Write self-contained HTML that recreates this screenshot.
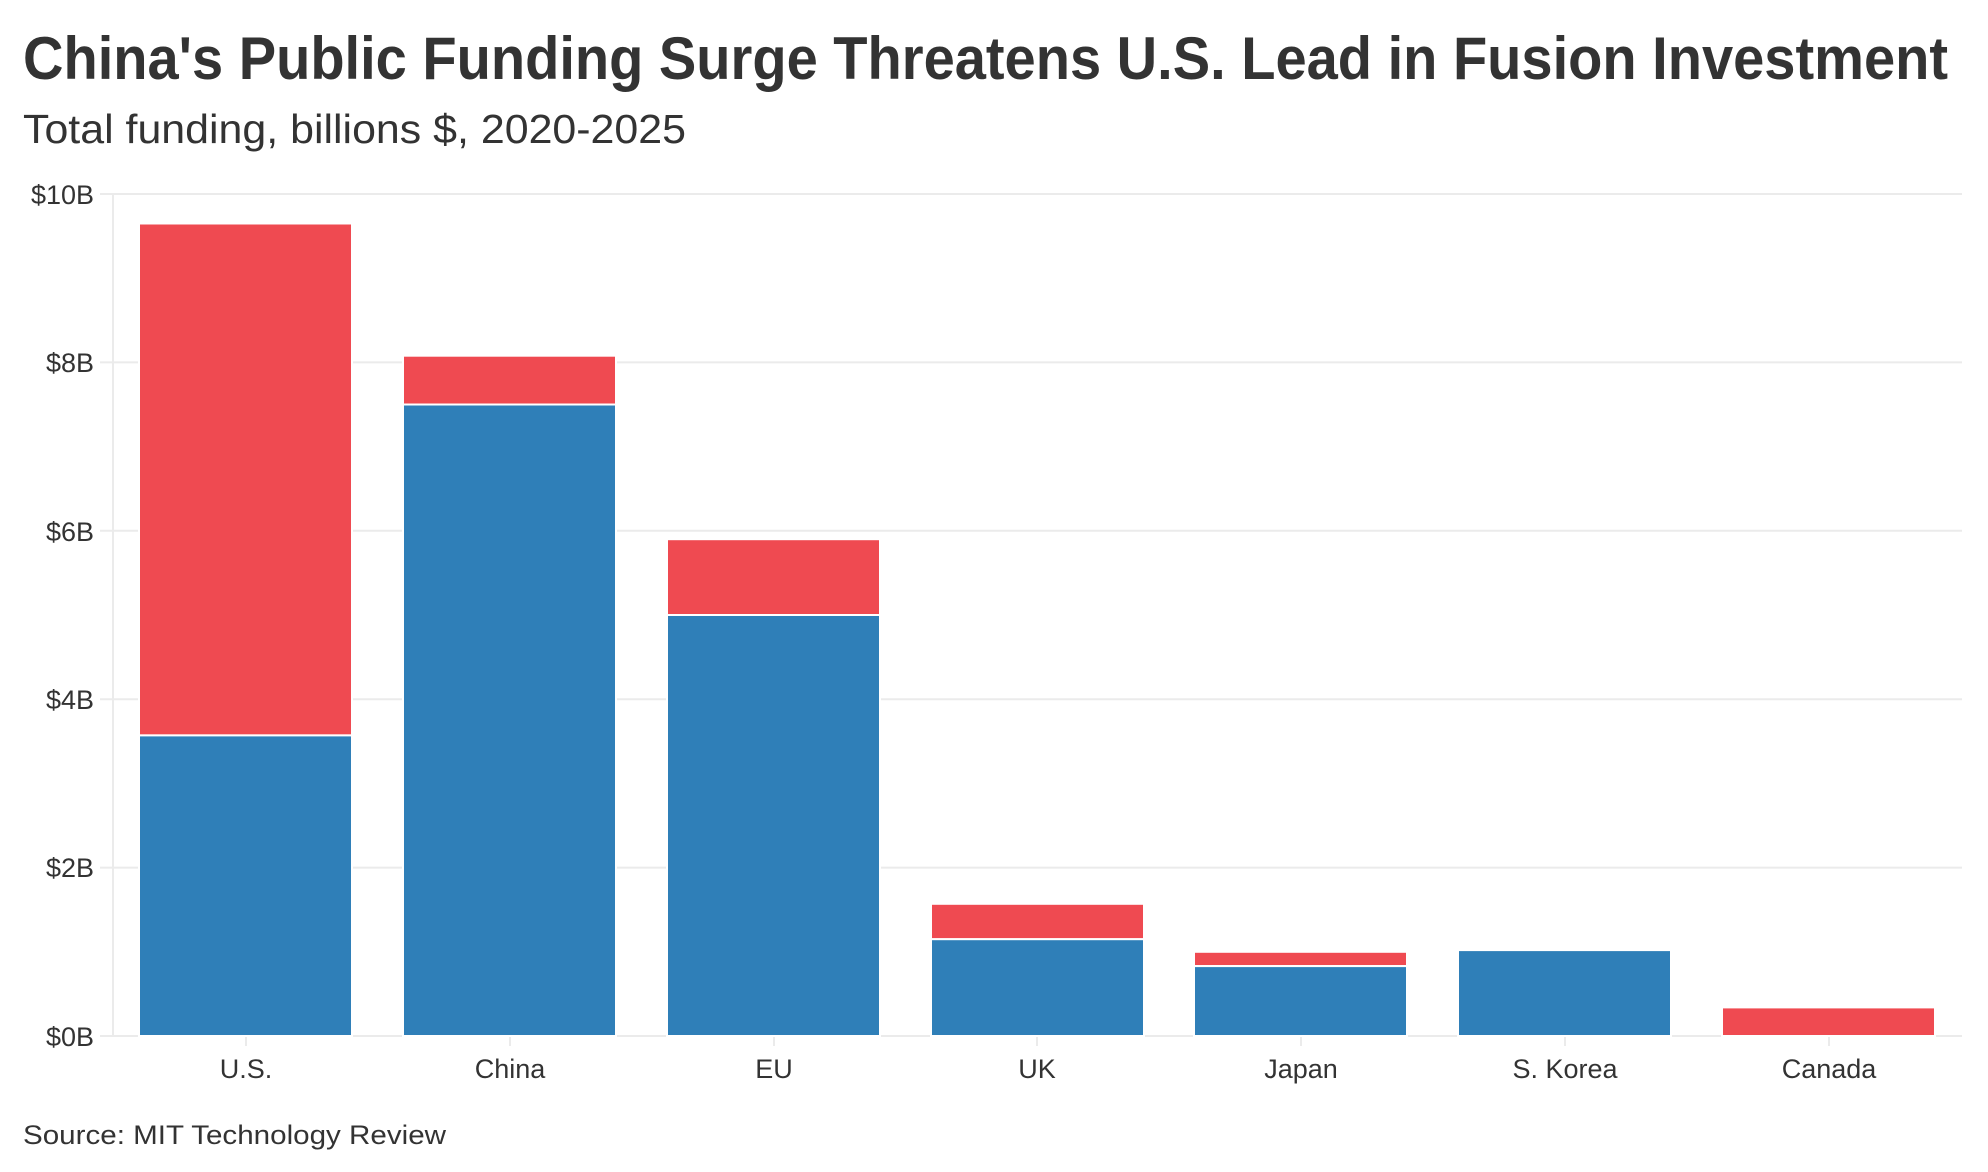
<!DOCTYPE html>
<html><head><meta charset="utf-8"><style>html,body{margin:0;padding:0;background:#fff}svg{display:block}text{font-family:"Liberation Sans",sans-serif;fill:#333}</style></head><body>
<svg width="1988" height="1172" viewBox="0 0 1988 1172" xmlns="http://www.w3.org/2000/svg">
<text x="23" y="79" font-size="60" font-weight="bold" textLength="1925" lengthAdjust="spacingAndGlyphs">China's Public Funding Surge Threatens U.S. Lead in Fusion Investment</text>
<text x="23" y="143" font-size="41" textLength="663" lengthAdjust="spacingAndGlyphs">Total funding, billions $, 2020-2025</text>
<g stroke="#ebebeb" stroke-width="2">
<line x1="100" x2="1962" y1="194" y2="194"/><line x1="100" x2="1962" y1="362.4" y2="362.4"/><line x1="100" x2="1962" y1="530.8" y2="530.8"/><line x1="100" x2="1962" y1="699.2" y2="699.2"/><line x1="100" x2="1962" y1="867.6" y2="867.6"/><line x1="100" x2="1962" y1="1036" y2="1036"/>
<line x1="113" x2="113" y1="194" y2="1036"/>
<line x1="246" x2="246" y1="1036" y2="1046"/><line x1="510" x2="510" y1="1036" y2="1046"/><line x1="774" x2="774" y1="1036" y2="1046"/><line x1="1037" x2="1037" y1="1036" y2="1046"/><line x1="1301" x2="1301" y1="1036" y2="1046"/><line x1="1565" x2="1565" y1="1036" y2="1046"/><line x1="1829" x2="1829" y1="1036" y2="1046"/>
</g>
<g font-size="27" text-anchor="end">
<text x="94" y="204">$10B</text><text x="94" y="372">$8B</text><text x="94" y="541">$6B</text><text x="94" y="709">$4B</text><text x="94" y="877">$2B</text><text x="94" y="1046">$0B</text>
</g>
<g stroke="#fff" stroke-width="2">
<rect x="139" y="223.5" width="213" height="511.9" fill="#ef4a51"/>
<rect x="139" y="735.4" width="213" height="300.6" fill="#2f7fb8"/>
<rect x="403" y="355.7" width="213" height="48.8" fill="#ef4a51"/>
<rect x="403" y="404.5" width="213" height="631.5" fill="#2f7fb8"/>
<rect x="667" y="539.2" width="213" height="75.8" fill="#ef4a51"/>
<rect x="667" y="615" width="213" height="421" fill="#2f7fb8"/>
<rect x="931" y="903.8" width="213" height="35.4" fill="#ef4a51"/>
<rect x="931" y="939.2" width="213" height="96.8" fill="#2f7fb8"/>
<rect x="1194" y="951.8" width="213" height="14.3" fill="#ef4a51"/>
<rect x="1194" y="966.1" width="213" height="69.9" fill="#2f7fb8"/>
<rect x="1458" y="950.1" width="213" height="85.9" fill="#2f7fb8"/>
<rect x="1722" y="1007.4" width="213" height="28.6" fill="#ef4a51"/>
</g>
<g font-size="27" text-anchor="middle">
<text x="246" y="1078">U.S.</text><text x="510" y="1078">China</text><text x="774" y="1078">EU</text><text x="1037" y="1078">UK</text><text x="1301" y="1078">Japan</text><text x="1565" y="1078">S. Korea</text><text x="1829" y="1078">Canada</text>
</g>
<text x="23" y="1144" font-size="27" textLength="423" lengthAdjust="spacingAndGlyphs">Source: MIT Technology Review</text>
</svg>
</body></html>
